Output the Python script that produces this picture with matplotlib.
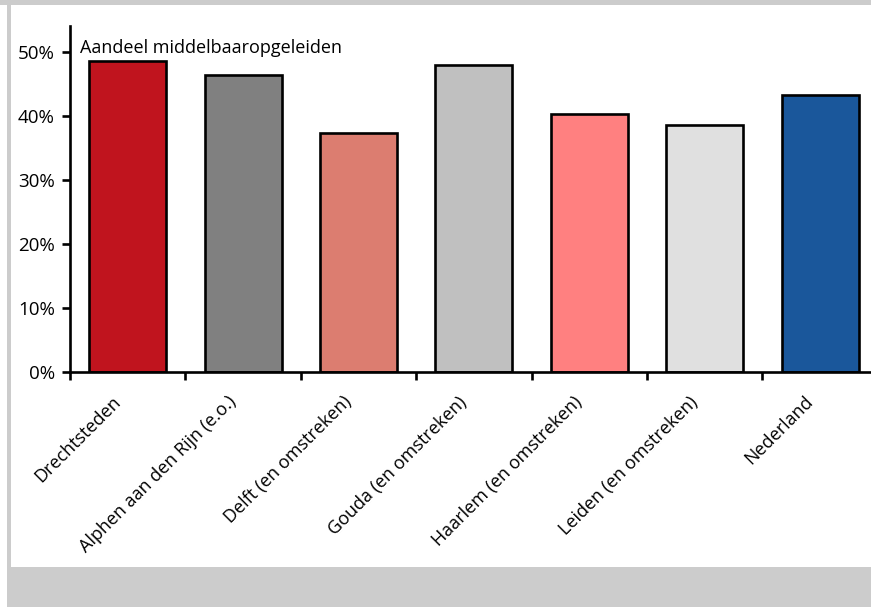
import matplotlib
matplotlib.use("Agg")
import matplotlib.pyplot as plt
from matplotlib.patches import Rectangle
import matplotlib.transforms as mtransforms

categories = ["Drechtsteden", "Alphen aan den Rijn (e.o.)", "Delft (en omstreken)",
              "Gouda (en omstreken)", "Haarlem (en omstreken)", "Leiden (en omstreken)",
              "Nederland"]
values = [0.487, 0.464, 0.373, 0.480, 0.403, 0.386, 0.433]
colors = ["#c0141e", "#808080", "#dc7d70", "#c0c0c0", "#ff8080", "#e0e0e0", "#1a579b"]
yticks = [0, 0.1, 0.2, 0.3, 0.4, 0.5]
ytick_labels = ["0%", "10%", "20%", "30%", "40%", "50%"]
title = "Aandeel middelbaaropgeleiden"

plt.rcParams['font.family'] = ['Open Sans', 'DejaVu Sans']

W, H = 871, 607
fig = plt.figure(figsize=(W / 100, H / 100), dpi=100)
fig.patch.set_facecolor("white")

gray = "#cccccc"
fig.add_artist(Rectangle((0, 1 - 5 / H), 1, 5 / H, transform=fig.transFigure, color=gray, lw=0))
fig.add_artist(Rectangle((7 / W, 0), 4 / W, 1, transform=fig.transFigure, color=gray, lw=0))
fig.add_artist(Rectangle((7 / W, 0), 1, 40 / H, transform=fig.transFigure, color=gray, lw=0))

x0, x1 = 70, 70 + 7 * 115.4
y0, y1 = 372, 26
ax = fig.add_axes([x0 / W, 1 - y0 / H, (x1 - x0) / W, (y0 - y1) / H])
ax.set_facecolor("none")

pos = list(range(len(categories)))
ax.bar(pos, values, width=0.667, color=colors, edgecolor="black", linewidth=1.9, zorder=3)

ax.set_xlim(-0.5, len(categories) - 0.5)
ax.set_ylim(0, 0.541)

for s in ["top", "right"]:
    ax.spines[s].set_visible(False)
ax.spines["left"].set_linewidth(1.9)
ax.spines["bottom"].set_linewidth(1.9)
ax.spines["bottom"].set_zorder(4)

ax.set_yticks(yticks)
ax.set_yticklabels(ytick_labels, fontsize=13.5)
ax.tick_params(axis="y", direction="out", length=6, width=1.9, pad=5)

ax.set_xticks(pos)
ax.set_xticklabels(categories, fontsize=13, rotation=45, ha="right", rotation_mode="anchor")
ax.tick_params(axis="x", which="major", length=0, pad=15)
offset = mtransforms.ScaledTranslation(-16 / 100, 0, fig.dpi_scale_trans)
for lbl in ax.get_xticklabels():
    lbl.set_transform(lbl.get_transform() + offset)
ax.set_xticks([p - 0.5 for p in pos], minor=True)
ax.tick_params(axis="x", which="minor", direction="out", length=6, width=1.9)

ax.text(0.012, 0.922, title, transform=ax.transAxes, fontsize=13, ha="left", va="baseline")

fig.savefig("out.png", dpi=100)
